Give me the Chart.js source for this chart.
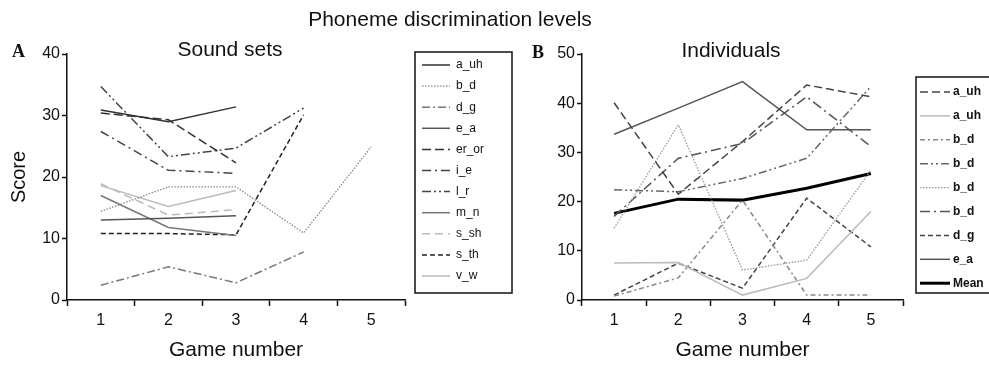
<!DOCTYPE html>
<html>
<head>
<meta charset="utf-8">
<title>Phoneme discrimination levels</title>
<script src="https://cdn.jsdelivr.net/npm/chart.js@4.4.1/dist/chart.umd.min.js"></script>
<style>
  html, body { margin: 0; padding: 0; background: #fff; overflow: hidden; }
  body { position: relative; width: 989px; height: 365px; font-family: "Liberation Sans", Arial, sans-serif; color: #111; }
  .panel { position: absolute; top: 0; height: 365px; }
  #panelA { left: 0; width: 530px; }
  #panelB { left: 500px; width: 520px; }
  .txt { position: absolute; white-space: nowrap; line-height: 24px; font-size: 21px; z-index: 2; }
  .letter { position: absolute; font-family: "Liberation Serif", "DejaVu Serif", serif; font-weight: bold; font-size: 18px; line-height: 18px; z-index: 2; }
</style>
</head>
<body>
<div class="txt" style="left:250px; width:400px; top:7px; text-align:center;">Phoneme discrimination levels</div>
<div class="txt" style="left:130px; width:200px; top:37px; text-align:center;">Sound sets</div>
<div class="txt" style="left:631px; width:200px; top:38px; text-align:center;">Individuals</div>
<div class="letter" style="left:12px; top:42px;">A</div>
<div class="letter" style="left:532px; top:43px;">B</div>

<div class="panel" id="panelA"><canvas id="soundSets" width="530" height="365"></canvas></div>
<div class="panel" id="panelB"><canvas id="individuals" width="520" height="365"></canvas></div>

<script>
const games = ["1", "2", "3", "4", "5"];

// Panel A - sound sets (score per game)
const aUh = [30.9, 29.0, 31.4, null, null];
const bD = [14.4, 18.4, 18.4, 10.9, 24.9];
const dG = [2.4, 5.4, 2.8, 7.8, null];
const eA = [13.0, 13.3, 13.7, null, null];
const erOr = [30.4, 29.3, 22.3, null, null];
const iE = [27.4, 21.1, 20.6, null, null];
const lR = [34.7, 23.3, 24.7, 31.2, null];
const mN = [17.0, 11.8, 10.5, null, null];
const sSh = [18.9, 13.8, 14.7, null, null];
const sTh = [10.8, 10.8, 10.6, 30.1, null];
const vW = [18.6, 15.2, 17.8, null, null];

// Panel B - individuals
const indAuh1 = [40.1, 21.5, 32.2, 43.7, 41.3];
const indAuh2 = [7.5, 7.6, 1.0, 4.4, 18.0];
const indBd1 = [0.8, 4.5, 20.3, 1.0, 1.0];
const indBd2 = [22.4, 22.0, 24.7, 28.8, 43.4];
const indBd3 = [14.6, 35.6, 6.1, 8.1, 26.4];
const indBd4 = [17.0, 28.8, 31.8, 41.3, 31.2];
const indDg = [1.0, 7.5, 2.4, 20.7, 10.8];
const indEa = [33.7, 39.0, 44.4, 34.6, 34.6];
const meanScore = [17.6, 20.5, 20.3, 22.7, 25.7];

const ink = "#111";
const font = "Liberation Sans";

function series(label, data, color, dash, width) {
  return {
    label: label,
    data: data,
    borderColor: color,
    borderDash: dash,
    borderWidth: width || 1.5,
    pointRadius: 0,
    pointHoverRadius: 0,
    tension: 0,
    fill: false
  };
}

// framed legend with line samples, drawn after the chart
const boxLegend = {
  id: "boxLegend",
  afterDraw(chart, args, opts) {
    const ctx = chart.ctx;
    ctx.save();
    ctx.strokeStyle = ink;
    ctx.lineWidth = 1.5;
    ctx.setLineDash([]);
    ctx.strokeRect(opts.x, opts.y, opts.w, opts.h);
    ctx.font = opts.font;
    ctx.textBaseline = "middle";
    ctx.fillStyle = ink;
    chart.data.datasets.forEach((ds, i) => {
      const y = opts.first + i * opts.step;
      ctx.beginPath();
      ctx.setLineDash(ds.borderDash || []);
      ctx.strokeStyle = ds.borderColor;
      ctx.lineWidth = ds.borderWidth;
      ctx.moveTo(opts.x + opts.lineFrom, y);
      ctx.lineTo(opts.x + opts.lineTo, y);
      ctx.stroke();
      ctx.setLineDash([]);
      ctx.fillText(ds.label, opts.x + opts.textX, y);
    });
    ctx.restore();
  }
};

function xAxis() {
  return {
    type: "category",
    offset: true,
    grid: { offset: true, drawOnChartArea: false, drawTicks: true, tickLength: 6, tickWidth: 1.5, tickColor: ink },
    border: { display: true, color: ink, width: 1.5 },
    ticks: { color: ink, font: { family: font, size: 16 }, padding: 5, maxRotation: 0 },
    title: { display: true, text: "Game number", color: ink, font: { family: font, size: 21 }, padding: { top: 0, bottom: 2 } },
    afterFit: (scale) => { scale.height = 65; }
  };
}

function yAxis(max, width, title) {
  return {
    min: 0,
    max: max,
    ticks: { stepSize: 10, color: ink, font: { family: font, size: 16 }, padding: 2 },
    grid: { drawOnChartArea: false, drawTicks: true, tickLength: 5, tickWidth: 1.5, tickColor: ink },
    border: { display: true, color: ink, width: 1.5 },
    title: { display: !!title, text: title || "", color: ink, font: { family: font, size: 20 }, padding: { top: 7, bottom: 0 } },
    afterFit: (scale) => { scale.width = width; }
  };
}

document.addEventListener("DOMContentLoaded", function () {
  const ctxA = document.getElementById("soundSets").getContext("2d");
  const ctxB = document.getElementById("individuals").getContext("2d");

  new Chart(ctxA, {
    type: "line",
    data: {
      labels: games,
      datasets: [
        series("a_uh", aUh, "#333", []),
        series("b_d", bD, "#888", [1.5, 1.5], 1.3),
        series("d_g", dG, "#777", [8, 3, 2, 3]),
        series("e_a", eA, "#555", []),
        series("er_or", erOr, "#333", [9, 4]),
        series("i_e", iE, "#444", [9, 4, 2, 4]),
        series("l_r", lR, "#444", [9, 3, 2, 3, 2, 3]),
        series("m_n", mN, "#777", []),
        series("s_sh", sSh, "#bbb", [8, 5]),
        series("s_th", sTh, "#222", [5, 3]),
        series("v_w", vW, "#bbb", [])
      ]
    },
    options: {
      responsive: false,
      animation: false,
      layout: { padding: { left: 0, top: 54, right: 125, bottom: 0 } },
      plugins: {
        legend: { display: false },
        tooltip: { enabled: false },
        boxLegend: { x: 415, y: 52, w: 97, h: 241, first: 65, step: 21.1, lineFrom: 7, lineTo: 35, textX: 41, font: "12px 'Liberation Sans'" }
      },
      scales: {
        x: xAxis(),
        y: yAxis(40, 67, "Score")
      }
    },
    plugins: [boxLegend]
  });

  new Chart(ctxB, {
    type: "line",
    data: {
      labels: games,
      datasets: [
        series("a_uh", indAuh1, "#444", [8, 4]),
        series("a_uh", indAuh2, "#bbb", []),
        series("b_d", indBd1, "#888", [5, 3, 2, 3]),
        series("b_d", indBd2, "#666", [8, 3, 2, 3, 2, 3]),
        series("b_d", indBd3, "#999", [1.5, 1.5], 1.3),
        series("b_d", indBd4, "#555", [10, 4, 2, 4]),
        series("d_g", indDg, "#444", [5, 3]),
        series("e_a", indEa, "#555", []),
        series("Mean", meanScore, "#000", [], 3)
      ]
    },
    options: {
      responsive: false,
      animation: false,
      layout: { padding: { left: 0, top: 54, right: 117, bottom: 0 } },
      plugins: {
        legend: { display: false },
        tooltip: { enabled: false },
        boxLegend: { x: 416, y: 77, w: 100, h: 216, first: 92, step: 23.9, lineFrom: 4, lineTo: 34, textX: 37, font: "bold 12px 'Liberation Sans'" }
      },
      scales: {
        x: xAxis(),
        y: yAxis(50, 82, "")
      }
    },
    plugins: [boxLegend]
  });
});
</script>
</body>
</html>
